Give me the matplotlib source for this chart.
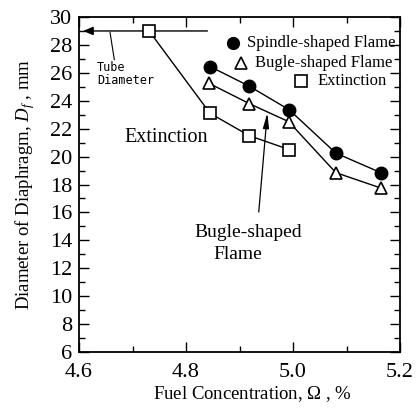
import numpy as np
import matplotlib
matplotlib.use('Agg')
import matplotlib.pyplot as plt
from matplotlib.ticker import MultipleLocator

plt.rcParams['font.family'] = 'Liberation Serif'
plt.rcParams['mathtext.fontset'] = 'custom'
plt.rcParams['mathtext.rm'] = 'Liberation Serif'
plt.rcParams['mathtext.it'] = 'Liberation Serif:italic'

# data (fuel concentration %, diaphragm diameter mm)
spindle_x = [4.845, 4.918, 4.993, 5.080, 5.164]
spindle_y = [26.45, 25.05, 23.35, 20.25, 18.85]
bugle_x = [4.843, 4.918, 4.992, 5.080, 5.164]
bugle_y = [25.25, 23.8, 22.5, 18.85, 17.75]
ext_x = [4.731, 4.845, 4.918, 4.993]
ext_y = [29.0, 23.1, 21.5, 20.5]
tube_diameter = 29.0

fig = plt.figure(figsize=(4.2, 4.12), dpi=100)
ax = fig.add_axes([79/420, 60/412, 321/420, 335/412])

ax.plot(spindle_x, spindle_y, color='black', lw=1.0, marker='o', ms=9,
        mfc='black', mec='black', zorder=3)
ax.plot(bugle_x, bugle_y, color='black', lw=1.0, marker='^', ms=9,
        mfc='white', mec='black', mew=1.2, zorder=3)
ax.plot(ext_x, ext_y, color='black', lw=1.0, marker='s', ms=8.5,
        mfc='white', mec='black', mew=1.2, zorder=3)

# tube diameter line with arrow to the left
ax.annotate('', xy=(4.6075, tube_diameter), xytext=(4.84, tube_diameter),
            arrowprops=dict(arrowstyle='-|>,head_length=0.6,head_width=0.25',
                            color='black', lw=1.0, mutation_scale=10,
                            shrinkA=0, shrinkB=0), zorder=2)
ax.plot([4.666, 4.658], [26.95, 28.9], color='black', lw=0.8)
ax.text(4.634, 25.9, 'Tube\nDiameter', family='DejaVu Sans Mono',
        fontsize=8.5, ha='left', va='center', linespacing=1.05)

ax.text(4.7626, 21.4, 'Extinction', fontsize=14.5, ha='center', va='center')
ax.text(4.916, 14.53, 'Bugle-shaped', fontsize=14, ha='center', va='center')
ax.text(4.896, 12.95, 'Flame', fontsize=14, ha='center', va='center')
ax.annotate('', xy=(4.952, 23.12), xytext=(4.936, 16.03),
            arrowprops=dict(arrowstyle='-|>,head_length=0.9,head_width=0.18',
                            color='black', lw=0.9, mutation_scale=10,
                            shrinkA=0, shrinkB=0))

# legend drawn by hand (right aligned like the original)
ax.plot([0.4807], [0.9233], transform=ax.transAxes, marker='o', ms=8.5,
        color='black', clip_on=False)
ax.text(0.5234, 0.9233, 'Spindle-shaped Flame', transform=ax.transAxes,
        fontsize=12, ha='left', va='center')
ax.plot([0.5057], [0.8636], transform=ax.transAxes, marker='^', ms=8,
        mfc='white', mec='black', mew=1.2, clip_on=False)
ax.text(0.5483, 0.8636, 'Bugle-shaped Flame', transform=ax.transAxes,
        fontsize=12, ha='left', va='center')
ax.plot([0.6907], [0.8099], transform=ax.transAxes, marker='s', ms=8,
        mfc='white', mec='black', mew=1.2, clip_on=False)
ax.text(0.7445, 0.8099, 'Extinction', transform=ax.transAxes,
        fontsize=12, ha='left', va='center')

ax.set_xlim(4.6, 5.2)
ax.set_ylim(6, 30)
ax.xaxis.set_major_locator(MultipleLocator(0.2))
ax.xaxis.set_minor_locator(MultipleLocator(0.1))
ax.yaxis.set_major_locator(MultipleLocator(2))
ax.yaxis.set_minor_locator(MultipleLocator(1))
ax.set_xticks([4.6, 4.8, 5.0, 5.2])
ax.set_xticklabels(['4.6', '4.8', '5.0', '5.2'])
ax.tick_params(which='both', direction='in', top=True, right=True,
               width=1.0, labelsize=16)
ax.tick_params(which='major', length=7)
ax.tick_params(which='minor', length=4)
ax.tick_params(axis='y', pad=5)
ax.tick_params(axis='x', pad=8)
for s in ax.spines.values():
    s.set_linewidth(1.3)

ax.set_xlabel(r'Fuel Concentration, $\mathit{\Omega}$ , %', fontsize=13.5)
ax.set_ylabel(r'Diameter of Diaphragm, $D_f$ , mm', fontsize=13.5)
ax.xaxis.set_label_coords(0.54, -0.097)
ax.yaxis.set_label_coords(-0.13, 0.5)

fig.savefig('out.png', dpi=100)
